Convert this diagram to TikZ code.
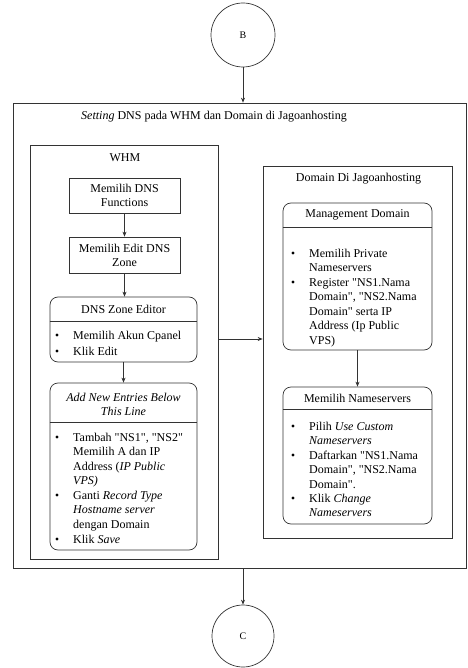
\documentclass[tikz,border=0pt]{standalone}
\usepackage{fontspec}
\setmainfont{Liberation Serif}[Ligatures=TeXOff]
\usetikzlibrary{arrows.meta}
\begin{document}
\begin{tikzpicture}[x=1pt,y=-1pt,
  ln/.style={line width=0.7pt, draw=black!80},
  arr/.style={ln, -{Stealth[length=5pt,width=4pt]}},
  box/.style={ln, rectangle, inner sep=0pt},
  rbox/.style={ln, rectangle, rounded corners=8pt, inner sep=0pt},
  conn/.style={ln, circle, inner sep=0pt, font=\fontsize{10}{12}\selectfont},
  txt/.style={inner sep=0pt, font=\fontsize{12}{14}\selectfont, align=center},
  item/.style={inner sep=0pt, font=\fontsize{12}{14.5}\selectfont, align=left, anchor=north west},
  bul/.style={fill=black}
]
\useasboundingbox (0,0) rectangle (467,668);

% connectors B and C
\node[conn, minimum size=64pt] (B) at (243,35) {B};
\node[conn, minimum size=62pt] (C) at (243,636) {C};

% outer box
\node[box, minimum width=453pt, minimum height=465pt] (outer) at (239.5,335.5) {};
\node[txt] (title) at (214,117) {\textit{Setting} DNS pada WHM dan Domain di Jagoanhosting};

% WHM group
\node[box, minimum width=188pt, minimum height=414pt] (whm) at (124,352) {};
\node[txt] (whmlabel) at (125,158) {WHM};
\node[box, minimum width=111pt, minimum height=35pt, txt, draw=black!80, line width=0.7pt] (f1) at (124.5,195.5) {Memilih DNS\\Functions};
\node[box, minimum width=111pt, minimum height=36pt, txt, draw=black!80, line width=0.7pt] (f2) at (124.5,255) {Memilih Edit DNS\\Zone};
\node[rbox, minimum width=147pt, minimum height=65pt] (dze) at (123.5,329.5) {};
\draw[ln] (dze.west |- 0,321) -- (dze.east |- 0,321);
\node[txt] (dzeh) at (123.5,309) {DNS Zone Editor};
\node[item] (dze1) at (73,329) {\strut Memilih Akun Cpanel};
\node[item] (dze2) at (73,345) {\strut Klik Edit};
\fill[bul] (57,335) circle (1.6pt);
\fill[bul] (57,351) circle (1.6pt);

\node[rbox, minimum width=147pt, minimum height=167pt] (ane) at (123.5,466.5) {};
\draw[ln] (ane.west |- 0,422) -- (ane.east |- 0,422);
\node[txt] (aneh) at (123.5,404) {\textit{Add New Entries Below}\\\textit{This Line}};
\node[item] (ane1) at (73,431) {\strut Tambah "NS1", "NS2"\\Memilih A dan IP\\Address (\textit{IP Public}\\\textit{VPS)}};
\node[item] (ane2) at (73,489) {\strut Ganti \textit{Record Type}\\\textit{Hostname server}\\dengan Domain};
\node[item] (ane3) at (73,533) {\strut Klik \textit{Save}};
\fill[bul] (57,437) circle (1.6pt);
\fill[bul] (57,495) circle (1.6pt);
\fill[bul] (57,539) circle (1.6pt);

% Domain group
\node[box, minimum width=189pt, minimum height=372pt] (dom) at (357.5,352) {};
\node[txt] (domlabel) at (358.5,179) {Domain Di Jagoanhosting};
\node[rbox, minimum width=149pt, minimum height=147pt] (md) at (357.5,276.5) {};
\draw[ln] (md.west |- 0,227) -- (md.east |- 0,227);
\node[txt] (mdh) at (357.5,215) {Management Domain};
\node[item] (md1) at (309,247) {\strut Memilih Private\\Nameservers};
\node[item] (md2) at (309,276) {\strut Register "NS1.Nama\\Domain", "NS2.Nama\\Domain" serta IP\\Address (Ip Public\\VPS)};
\fill[bul] (293,253) circle (1.6pt);
\fill[bul] (293,282) circle (1.6pt);

\node[rbox, minimum width=149pt, minimum height=137pt] (mn) at (357.5,455.5) {};
\draw[ln] (mn.west |- 0,409) -- (mn.east |- 0,409);
\node[txt] (mnh) at (357.5,398) {Memilih Nameservers};
\node[item] (mn1) at (309,420) {\strut Pilih \textit{Use Custom}\\\textit{Nameservers}};
\node[item] (mn2) at (309,449) {\strut Daftarkan "NS1.Nama\\Domain", "NS2.Nama\\Domain".};
\node[item] (mn3) at (309,492) {\strut Klik \textit{Change}\\\textit{Nameservers}};
\fill[bul] (293,426) circle (1.6pt);
\fill[bul] (293,455) circle (1.6pt);
\fill[bul] (293,498) circle (1.6pt);

% arrows
\coordinate (ay) at (0,339);
\draw[arr] (B.south) -- (B.south |- outer.north);
\draw[arr] (f1.south) -- (f2.north);
\draw[arr] (f2.south) -- (f2.south |- dze.north);
\draw[arr] (dze.south) -- (ane.north);
\draw[arr] (whm.east |- ay) -- (dom.west |- ay);
\draw[arr] (md.south) -- (mn.north);
\draw[arr] (C.north |- outer.south) -- (C.north);
\end{tikzpicture}
\end{document}
